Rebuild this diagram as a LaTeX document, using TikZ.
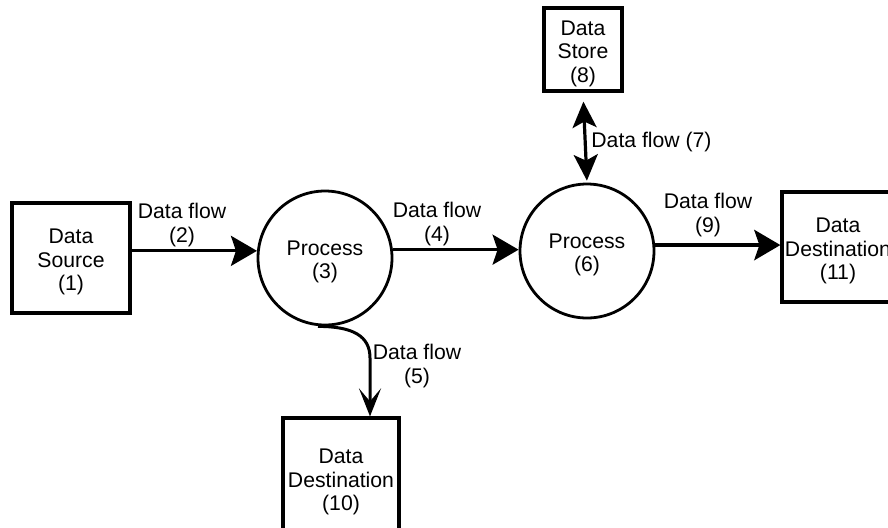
\documentclass[tikz,border=0pt]{standalone}
\usepackage{fontspec}
\setmainfont{Liberation Sans}
\usetikzlibrary{arrows.meta}

\tikzset{
    box/.style = {draw, rectangle, line width = 1.6pt, inner sep = 0pt},
    proc/.style = {draw, circle, line width = 1.4pt, minimum size = 67pt, inner sep = 0pt},
    inside/.style = {label = {[align = center, inner sep = 0pt, yshift = -2pt]center:#1}},
    lbl/.style = {align = center, inner sep = 0pt},
    flow/.style = {line width = 1.6pt, -{Stealth[length = 13pt, width = 15pt, inset = 2.5pt]}},
    dflow/.style = {line width = 1.6pt, {Stealth[length = 13pt, width = 12pt, inset = 3pt]}-{Stealth[length = 13pt, width = 12pt, inset = 3pt]}},
    bentflow/.style = {line width = 1.5pt, -{Stealth[length = 14pt, width = 11pt, inset = 6.5pt]}}
}

\begin{document}
\begin{tikzpicture}[x = 0.5pt, y = -0.5pt, font = \fontsize{10.6}{11.8}\selectfont]
                \clip (0,0) rectangle (888,527);

                \node[box, minimum width = 59pt, minimum height = 55pt, inside = {Data\\Source\\(1)}] (src) at (71,258) {};
                \node[proc, inside = {Process\\(3)}] (p3) at (325,258) {};
                \node[proc, inside = {Process\\(6)}] (p6) at (587,251) {};
                \node[box, minimum width = 39pt, minimum height = 41.5pt, inside = {Data\\Store\\(8)}] (store) at (583,49.5) {};
                \node[box, minimum width = 56pt, minimum height = 55pt, inside = {Data\\Destination\\(11)}] (dst11) at (838,247) {};
                \node[box, minimum width = 58pt, minimum height = 60pt, inside = {Data\\Destination\\(10)}] (dst10) at (341,478) {};


                \node[lbl] (l2) at (182,225) {Data flow\\(2)};
                \node[lbl] (l4) at (437,224) {Data flow\\(4)};
                \node[lbl] (l5) at (417,366) {Data flow\\(5)};
                \node[lbl, anchor = west] (l7) at (591,142) {Data flow (7)};
                \node[lbl] (l9) at (708,215) {Data flow\\(9)};


                \draw[flow] (src.east |- p3.174) -- (p3.174);
                \draw[flow] (p3.7) -- (p3.7 -| p6.west);
                \draw[flow, line width = 2.4pt] (p6.5) -- (p6.5 -| dst11.west);
                \draw[dflow, shorten <= 4.5pt, shorten >= 1pt] (store.south) -- (p6.north);

                \coordinate (bend) at (370,358);
                \draw[bentflow] ([xshift = -3.5pt]p3.south) .. controls +(35,0) and +(0,-22) .. (bend) -- (bend |- dst10.north);
\end{tikzpicture}
\end{document}
